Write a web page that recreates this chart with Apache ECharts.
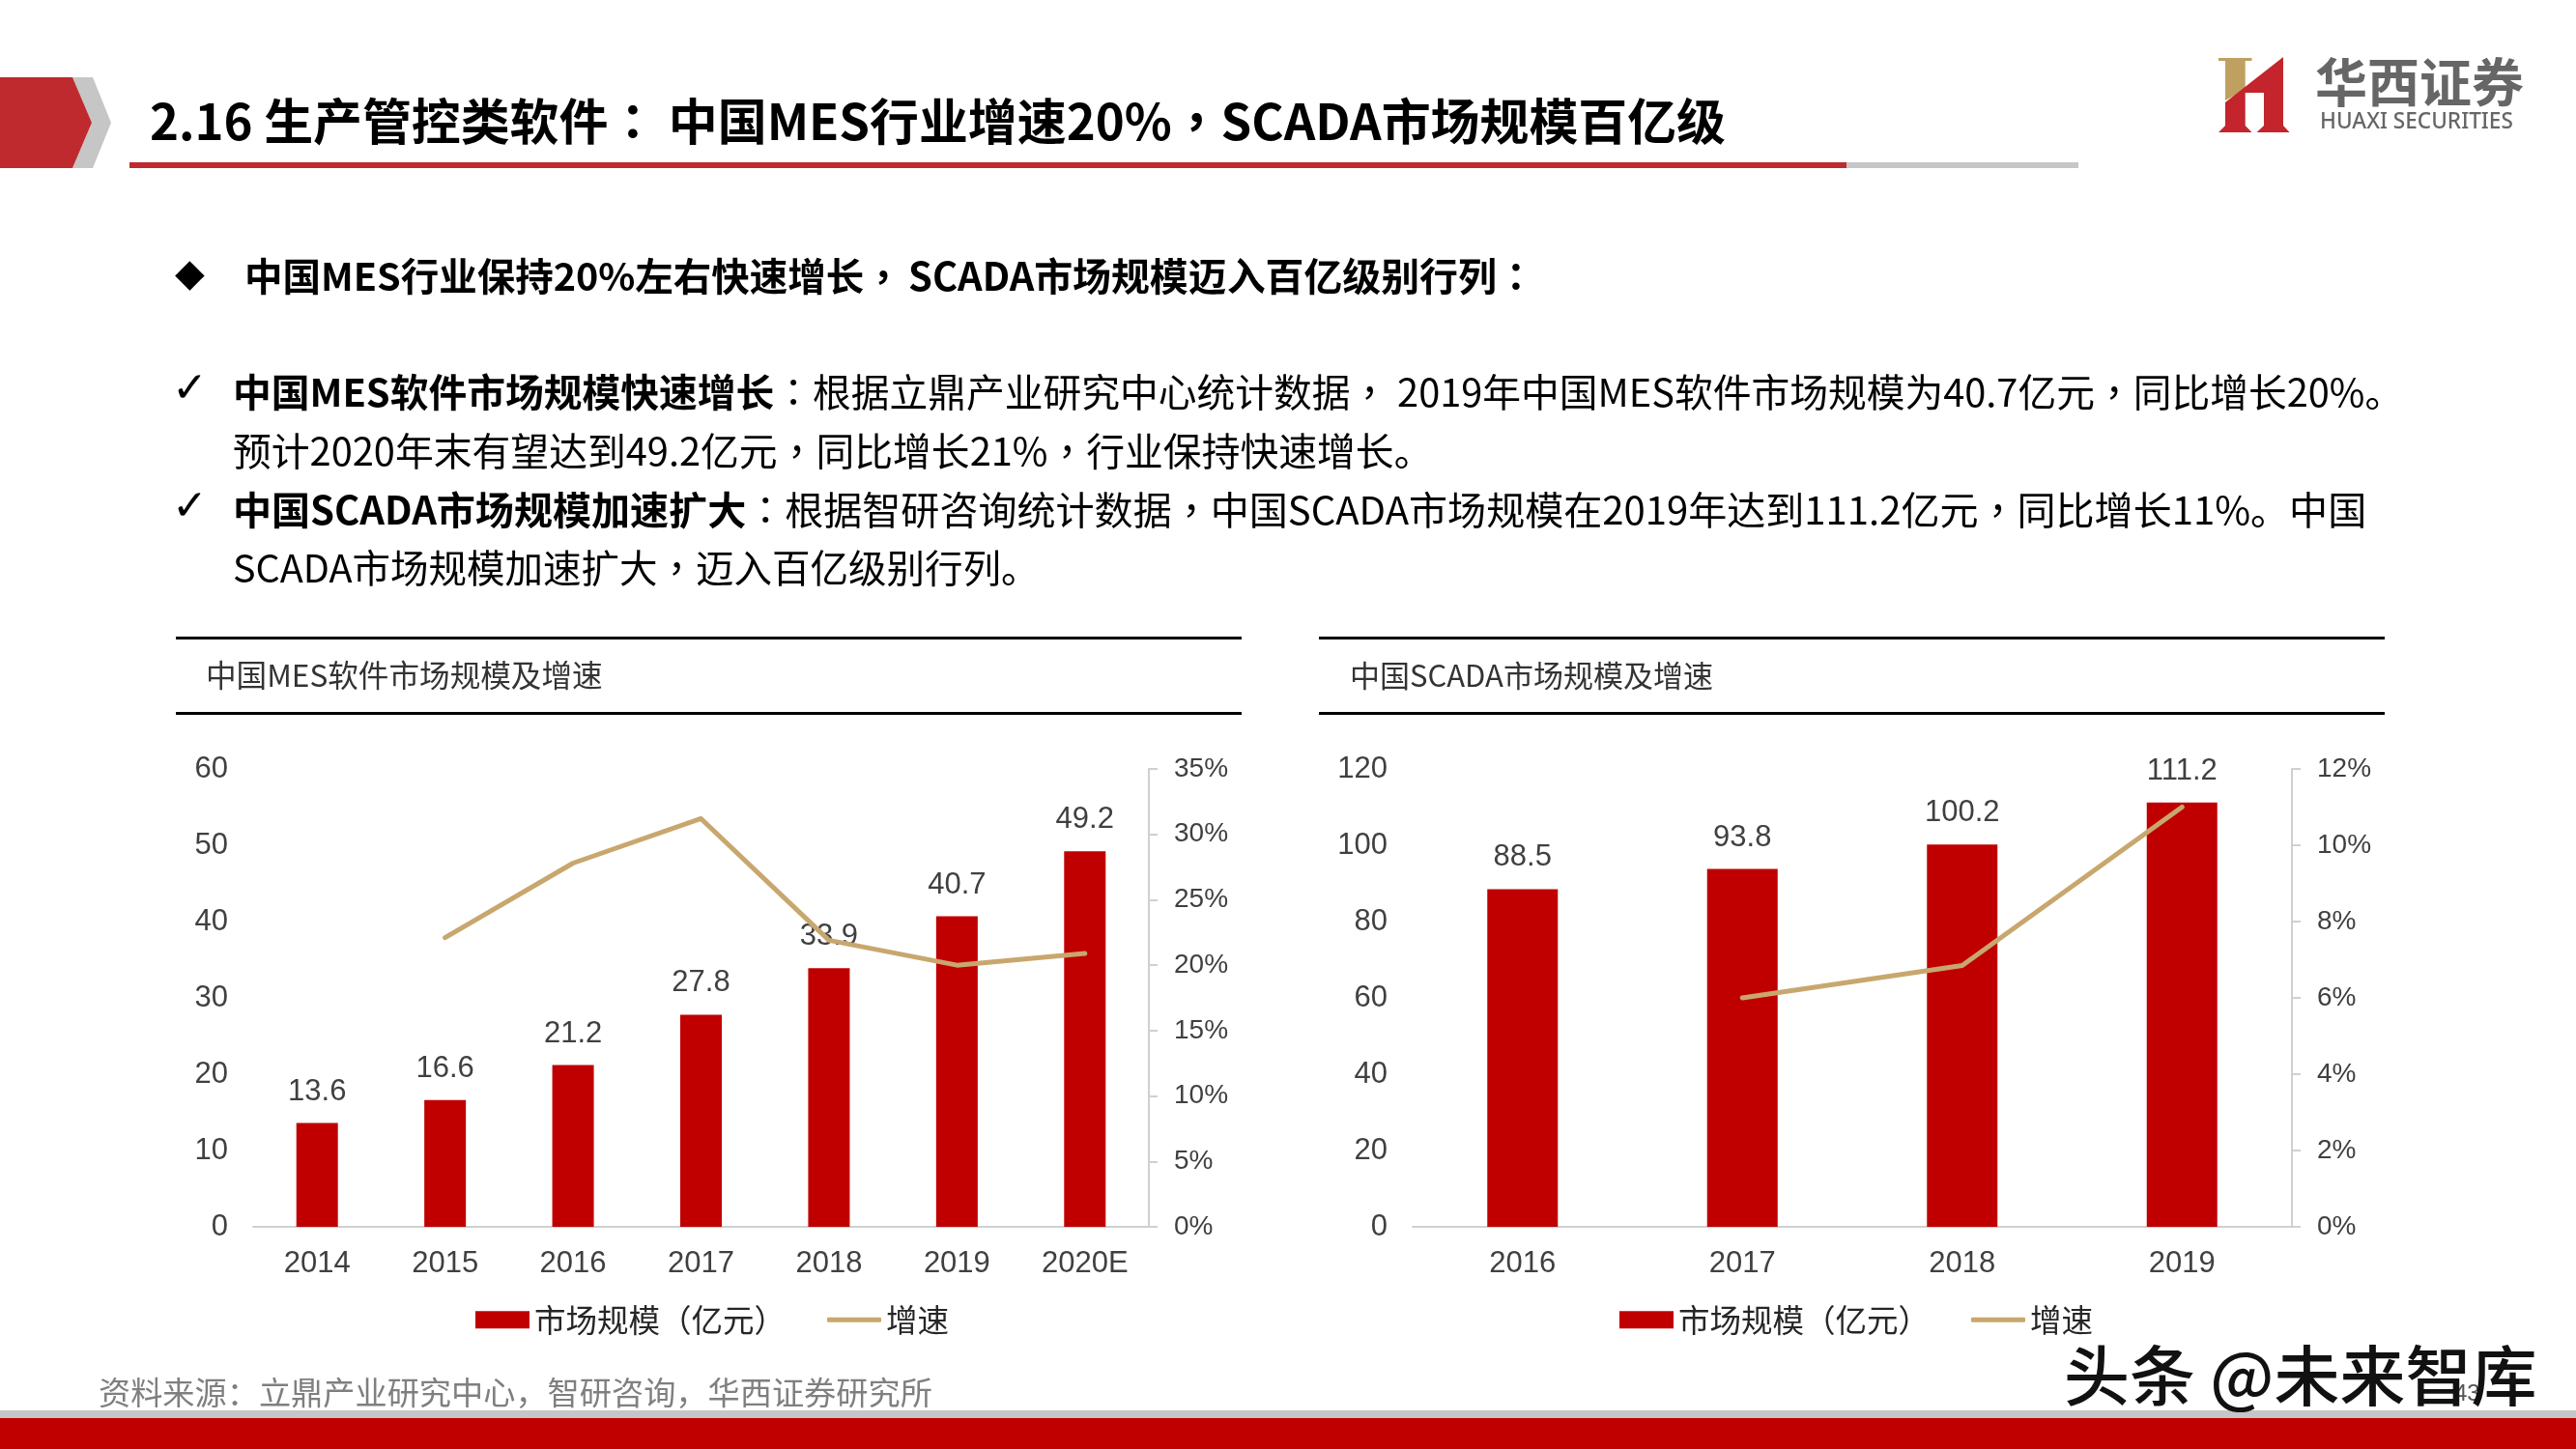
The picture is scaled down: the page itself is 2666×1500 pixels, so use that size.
<!DOCTYPE html>
<html>
<head>
<meta charset="utf-8">
<title>生产管控类软件</title>
<style>
    html, body { margin: 0; padding: 0; background: #fff; }
    #main { width: 2666px; height: 1500px; }
</style>
<script src="https://cdn.jsdelivr.net/npm/echarts@6/dist/echarts.min.js"></script>
</head>
<body>
<div id="main"></div>
<script>
// 中国MES软件
const mesYears = ['2014', '2015', '2016', '2017', '2018', '2019', '2020E'];
const mesSize = [13.6, 16.6, 21.2, 27.8, 33.9, 40.7, 49.2];
const mesGrowth = [null, 22.1, 27.8, 31.2, 21.9, 20, 20.9];
// 中国SCADA
const scadaYears = ['2016', '2017', '2018', '2019'];
const scadaSize = [88.5, 93.8, 100.2, 111.2];
const scadaGrowth = [null, 6, 6.85, 11];

const sizeName = '市场规模（亿元）';
const growthName = '增速';

const RED = '#C00000';
const GOLD = '#C8A76E';
const AXIS = '#D0D0D0';
const LABEL = '#404040';
const CJK = '"Noto Sans CJK SC", sans-serif';
const CJK_TC = '"Noto Sans CJK TC", sans-serif';  // 逗号冒号居中
const LATIN = '"Liberation Sans", "Noto Sans CJK SC", sans-serif';
const SYMBOL = '"DejaVu Sans", sans-serif';

function text(str, x, y, size, opts) {
    return {
        type: 'text',
        z: 10,
        style: Object.assign({
            text: str, x, y,
            fontSize: size,
            fontFamily: CJK,
            fill: '#000',
            verticalAlign: 'middle'
        }, opts)
    };
}

function rect(x, y, width, height, fill) {
    return { type: 'rect', shape: { x, y, width, height }, style: { fill } };
}

function polygon(points, fill) {
    return { type: 'polygon', shape: { points }, style: { fill } };
}

// 一行文字：bold 部分 + normal 部分，逗号冒号单独用居中的字形
function para(bold, normal, x, y, size) {
    const style = (fontFamily, fontWeight) => ({ fontSize: size, fontFamily, fontWeight, fill: '#000' });
    const rich = {
        b: style(CJK, 'bold'),
        bp: style(CJK_TC, 'bold'),
        n: style(CJK, 'normal'),
        np: style(CJK_TC, 'normal')
    };
    const wrap = (str, key) => str.split(/([，：])/)
        .filter(s => s)
        .map(s => (/^[，：]$/.test(s) ? '{' + key + 'p|' + s + '}' : '{' + key + '|' + s + '}'))
        .join('');
    return text(wrap(bold, 'b') + wrap(normal, 'n'), x, y, size, { rich });
}

const slide = [
    // 标题栏
    polygon([[75, 80], [96, 80], [115, 127], [96, 174], [75, 174], [95, 127]], '#C6C6C6'),
    polygon([[0, 80], [75, 80], [95, 127], [75, 174], [0, 174]], '#BE2A2E'),
    rect(134, 168, 1777, 6, '#BE2A2E'),
    rect(1911, 168, 240, 6, '#C6C6C6'),
    para('2.16 生产管控类软件： 中国MES行业增速20%，SCADA市场规模百亿级', '', 155, 126, 50.9),

    // logo
    polygon([[2296, 60], [2330.5, 60], [2330.5, 63], [2323.7, 63], [2323.7, 92.7], [2303, 104], [2303, 63], [2296, 63]], '#BFA060'),
    polygon([[2363, 59], [2363, 130], [2369.6, 137], [2335.6, 137], [2343, 130], [2343, 96], [2323.7, 96], [2323.7, 130], [2330.5, 137], [2296, 137], [2303, 130], [2303, 106]], '#C4242B'),
    text('华西证券', 2396, 85, 54, { fill: '#666', fontWeight: 'bold' }),
    text('HUAXI SECURITIES', 2401, 127, 22.6, { fill: '#666', fontFamily: '"Noto Sans", sans-serif', fontWeight: 500 }),

    // 要点
    text('◆', 181, 286, 40, { fontFamily: SYMBOL }),
    para('中国MES行业保持20%左右快速增长，', '', 253, 286, 39.5),
    para('SCADA市场规模迈入百亿级别行列：', '', 940, 286, 39.9),
    text('✓', 178, 405, 44, { fontFamily: SYMBOL }),
    para('中国MES软件市场规模快速增长', '：根据立鼎产业研究中心统计数据， 2019年中国MES软件市场规模为40.7亿元，同比增长20%。', 241, 406, 39.75),
    para('', '预计2020年末有望达到49.2亿元，同比增长21%，行业保持快速增长。', 241, 467, 39.8),
    text('✓', 178, 527, 44, { fontFamily: SYMBOL }),
    para('中国SCADA市场规模加速扩大', '：根据智研咨询统计数据，中国SCADA市场规模在2019年达到111.2亿元，同比增长11%。中国', 241, 528, 40.05),
    para('', 'SCADA市场规模加速扩大，迈入百亿级别行列。', 241, 588, 39.5),

    // 图表标题框
    rect(182, 659, 1103, 3, '#000'),
    rect(182, 737, 1103, 3, '#000'),
    text('中国MES软件市场规模及增速', 213, 699, 31.6, { fill: '#333' }),
    rect(1365, 659, 1103, 3, '#000'),
    rect(1365, 737, 1103, 3, '#000'),
    text('中国SCADA市场规模及增速', 1397, 699, 31, { fill: '#333' }),

    // 页脚
    text('资料来源：立鼎产业研究中心，智研咨询，华西证券研究所', 102, 1441, 33.2, { fill: '#7F7F7F' }),
    rect(0, 1460, 2666, 8, '#C6C6C6'),
    rect(0, 1468, 2666, 32, RED),
    text('43', 2540, 1443, 24, { fill: '#555', fontFamily: LATIN }),
    text('头条 @未来智库', 2136, 1424, 68, { fill: '#111', fontWeight: 500 })
];

function sizeSeries(data, gridIndex, barWidth) {
    return {
        name: sizeName,
        type: 'bar',
        xAxisIndex: gridIndex,
        yAxisIndex: gridIndex * 2,
        data,
        barWidth,
        z: 2,
        itemStyle: { color: RED },
        label: {
            show: true,
            position: 'top',
            distance: 17,
            fontSize: 31,
            fontFamily: LATIN,
            color: LABEL,
            formatter: p => p.value.toFixed(1)
        }
    };
}

function growthSeries(data, gridIndex) {
    return {
        name: growthName,
        type: 'line',
        xAxisIndex: gridIndex,
        yAxisIndex: gridIndex * 2 + 1,
        data,
        z: 3,
        symbol: 'none',
        lineStyle: { color: GOLD, width: 5, cap: 'round', join: 'round' },
        itemStyle: { color: GOLD }
    };
}

function xAxis(data, gridIndex) {
    return {
        type: 'category',
        gridIndex,
        data,
        axisLine: { show: true, lineStyle: { color: AXIS, width: 2 } },
        axisTick: { show: false },
        axisLabel: { fontSize: 31, fontFamily: LATIN, color: LABEL, margin: 23 }
    };
}

function leftAxis(max, interval, gridIndex) {
    return {
        type: 'value',
        gridIndex,
        min: 0,
        max,
        interval,
        axisLine: { show: false },
        axisTick: { show: false },
        splitLine: { show: false },
        axisLabel: { fontSize: 31, fontFamily: LATIN, color: LABEL, margin: 26, padding: [5, 0, 0, 0] }
    };
}

function rightAxis(max, interval, gridIndex) {
    return {
        type: 'value',
        gridIndex,
        position: 'right',
        min: 0,
        max,
        interval,
        axisLine: { show: true, lineStyle: { color: AXIS, width: 2 } },
        axisTick: { show: true, length: 9, lineStyle: { color: AXIS, width: 2 } },
        splitLine: { show: false },
        axisLabel: { fontSize: 28, fontFamily: LATIN, color: LABEL, margin: 26, padding: [5, 0, 0, 0], formatter: '{value}%' }
    };
}

// 柱和线的图例高度不同，各用一个 legend
function legend(name, left, itemHeight, icon) {
    return {
        left,
        top: 1350,
        padding: 0,
        itemWidth: 56,
        itemHeight,
        selectedMode: false,
        textStyle: { fontSize: 32.5, fontFamily: CJK, color: '#262626' },
        data: [{ name, icon }]
    };
}

const chart = echarts.init(document.getElementById('main'), null, { width: 2666, height: 1500 });
chart.setOption({
    animation: false,
    grid: [
        { left: 262, top: 796, width: 927, height: 474 },
        { left: 1462, top: 796, width: 910, height: 474 }
    ],
    xAxis: [xAxis(mesYears, 0), xAxis(scadaYears, 1)],
    yAxis: [
        leftAxis(60, 10, 0),
        rightAxis(35, 5, 0),
        leftAxis(120, 20, 1),
        rightAxis(12, 2, 1)
    ],
    legend: [
        legend(sizeName, 492, 18, 'rect'),
        legend(growthName, 856, 5, 'roundRect'),
        legend(sizeName, 1676, 18, 'rect'),
        legend(growthName, 2040, 5, 'roundRect')
    ],
    series: [
        sizeSeries(mesSize, 0, 43),
        growthSeries(mesGrowth, 0),
        sizeSeries(scadaSize, 1, 73),
        growthSeries(scadaGrowth, 1)
    ],
    graphic: { elements: slide }
});
</script>
</body>
</html>
